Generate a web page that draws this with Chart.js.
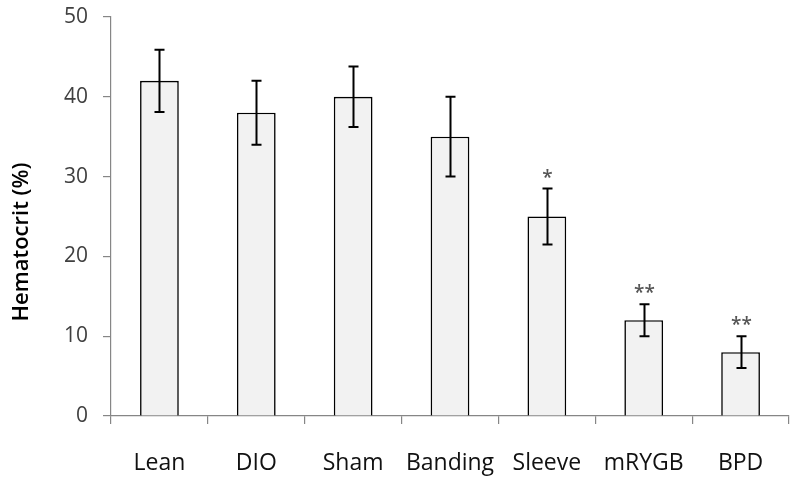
<!DOCTYPE html>
<html>
<head>
<meta charset="utf-8">
<script src="https://cdn.jsdelivr.net/npm/chart.js@4"></script>
<style>
  html,body{margin:0;padding:0;background:#fff;}
  #wrap{width:800px;height:483px;position:relative;}
</style>
</head>
<body>
<div id="wrap"><canvas id="c"></canvas></div>
<script>
// Hematocrit per group — bar chart with SEM bars
const groups = ["Lean","DIO","Sham","Banding","Sleeve","mRYGB","BPD"];
const hematocrit = [42, 38, 40, 35, 25, 12, 8];
const errors = [3.9, 4, 3.8, 5, 3.5, 2, 2];
const marks = ["", "", "", "", "*", "**", "**"];
const yTicks = [0, 10, 20, 30, 40, 50];
const yTitle = "Hematocrit (%)";

const FONT = "'Open Sans', 'Noto Sans', sans-serif";
const AXIS = "#868686";

const errorBars = {
  id: "errorBars",
  afterDatasetsDraw(chart){
    const {ctx, scales:{y}} = chart;
    const meta = chart.getDatasetMeta(0);
    ctx.save();
    ctx.strokeStyle = "#000";
    ctx.lineWidth = 2;
    meta.data.forEach((bar,i)=>{
      const x = Math.round(bar.x)+0.5;
      const top = y.getPixelForValue(hematocrit[i]+errors[i]);
      const bot = y.getPixelForValue(hematocrit[i]-errors[i]);
      ctx.beginPath();
      ctx.moveTo(x, top); ctx.lineTo(x, bot);
      ctx.moveTo(x-5, top); ctx.lineTo(x+5, top);
      ctx.moveTo(x-5, bot); ctx.lineTo(x+5, bot);
      ctx.stroke();
      if(marks[i]){
        ctx.fillStyle = "#555";
        ctx.font = "600 19px " + FONT;
        ctx.textAlign = "center";
        ctx.textBaseline = "alphabetic";
        ctx.fillText(marks[i], x, top - 18 + 13);
      }
    });
    ctx.restore();
  }
};

const yTitlePlugin = {
  id: "yTitle",
  afterDraw(chart){
    const ctx = chart.ctx;
    ctx.save();
    ctx.translate(22, 242);
    ctx.rotate(-Math.PI/2);
    ctx.fillStyle = "#000";
    ctx.font = "600 22px " + FONT;
    ctx.textAlign = "center";
    ctx.textBaseline = "middle";
    ctx.fillText(yTitle, 0, 0);
    ctx.restore();
  }
};

new Chart(document.getElementById("c"), {
  type: "bar",
  data: {
    labels: groups,
    datasets: [{
      data: hematocrit,
      backgroundColor: "#f2f2f2",
      borderColor: "#000",
      borderWidth: 1.6,
      barPercentage: 0.4,
      categoryPercentage: 1
    }]
  },
  options: {
    responsive: true, maintainAspectRatio: false, animation: false,
    layout: { padding: { top: 17, right: 11, bottom: 0, left: 0 } },
    plugins: { legend: { display: false }, tooltip: { enabled: false } },
    scales: {
      x: {
        grid: { display: true, drawOnChartArea: false, drawTicks: true, tickLength: 8, color: AXIS, lineWidth: 1.2 },
        border: { display: true, color: AXIS, width: 1.2 },
        ticks: { color: "#111", font: { family: FONT, size: 23 }, padding: 26 },
        afterFit: s => { s.height = 67; s.paddingLeft = 0; s.paddingRight = 0; }
      },
      y: {
        min: 0, max: 50,
        afterBuildTicks: s => { s.ticks = yTicks.map(v => ({ value: v })); },
        grid: { display: true, drawOnChartArea: false, drawTicks: true, tickLength: 8, color: AXIS, lineWidth: 1.2 },
        border: { display: true, color: AXIS, width: 1.2 },
        ticks: { color: "#404040", font: { family: FONT, size: 21 }, padding: 15 },
        afterFit: s => { s.width = 111; s.paddingTop = 0; s.paddingBottom = 0; }
      }
    }
  },
  plugins: [errorBars, yTitlePlugin]
});
</script>
</body>
</html>
